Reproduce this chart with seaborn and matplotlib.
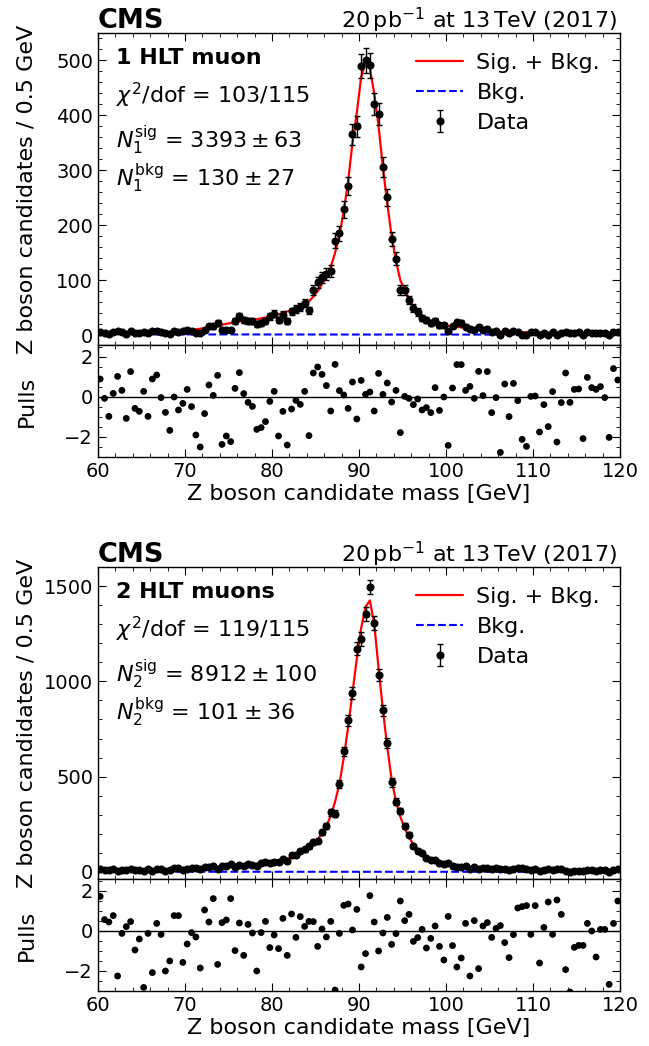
import numpy as np
import matplotlib
matplotlib.use("Agg")
import matplotlib.pyplot as plt
import seaborn as sns
from matplotlib.ticker import MultipleLocator

# binning: 60-120 GeV in 0.5 GeV bins
mass_lo, mass_hi, bin_width = 60.0, 120.0, 0.5
centers = np.arange(mass_lo + bin_width / 2, mass_hi, bin_width)

# ---- 1 HLT muon ----
counts_1 = [6, 4, 2, 5, 7, 5, 2, 7, 4, 3, 6, 3, 7, 8, 6, 4, 2,
            7, 5, 7, 10, 8, 4, 3, 10, 17, 16, 22,
            9, 10, 10, 26, 34, 27, 26, 26, 20, 22, 26, 34, 39,
            27, 37, 26, 43, 48, 51, 58, 45, 82, 96, 105,
            111, 116, 172, 185, 229, 271, 366, 380,
            490, 500, 491, 421, 403, 306, 251, 175, 139,
            83, 82, 64, 49, 42, 31, 27, 22, 26, 18, 18,
            7, 17, 23, 22, 14, 12, 10, 14, 9, 11, 5, 7,
            1, 8, 4, 7, 5, 1, 0, 5, 5, 1, 4, 1, 5, 0,
            4, 6, 3, 4, 5, 0, 5, 4, 4, 4, 3, 0, 6, 5]
fit_1 = [4.0, 4.1, 4.2, 4.3, 4.4, 4.5, 4.6, 4.7, 4.8, 4.9, 5.0, 5.1, 5.3, 5.5, 5.7, 5.9, 6.2,
         6.5, 7.0, 7.7, 8.5, 9.5, 10.5, 11.7, 13.0, 14.5, 16.0, 17.5,
         19.0, 20.5, 22.0, 23.5, 25.0, 26.0, 27.0, 28.0, 29.0, 30.5, 32.0, 34.0, 36.0,
         38.0, 40.5, 43.0, 46.0, 49.0, 52.5, 56.5, 61.5, 70.0, 80.0, 93.0,
         105, 124, 150, 182, 226, 280, 350, 405,
         470, 496, 485, 440, 380, 305, 240, 180, 135,
         100, 82, 65, 52, 43, 35, 30, 26, 23, 21, 19,
         17, 16, 15, 14, 12.5, 11, 10, 9.2, 8.5, 8.0, 7.5, 7.0,
         6.7, 6.4, 6.1, 5.8, 5.6, 5.4, 5.2, 5.0, 4.8, 4.7, 4.5, 4.4, 4.3, 4.2,
         4.1, 4.0, 3.9, 3.8, 3.7, 3.6, 3.5, 3.5, 3.4, 3.3, 3.3, 3.2, 3.1, 3.1]
pulls_1 = [0.9, -0.07, -0.97, 0.18, 1.03, 0.33, -1.07, 1.27, -0.57, -0.72,
           0.28, -0.97, 0.9, 1.1, -0.03, -0.77, -1.67, 0.0, -0.65, -0.32,
           0.38, -0.48, -1.9, -2.5, -0.83, 0.6, 0.08, 1.08, -2.37, -1.95,
           -2.23, 0.43, 1.22, 0.17, -0.27, -0.47, -1.62, -1.53, -1.23, -0.22,
           0.28, -1.95, -0.72, -2.4, -0.6, -0.17, -0.37, 0.28, -1.93, 1.2,
           1.5, 1.13, 0.57, -0.7, 1.63, 0.32, 0.1, -0.57, 0.75, -1.1,
           0.83, 0.13, 0.25, -0.7, 1.18, 0.13, 0.7, -0.25, 0.33, -1.78,
           0.03, -0.07, -0.38, -0.1, -0.65, -0.53, -0.78, 0.47, -0.67, 0.0,
           -2.42, 0.45, 1.62, 1.62, 0.33, 0.53, -0.07, 1.28, 0.07, 1.27,
           -0.78, -0.03, -2.77, 0.65, -0.98, 0.68, -0.18, -2.12, -2.47, 0.03,
           0.05, -1.75, -0.38, -1.48, 0.27, -2.25, -0.28, 1.2, -0.27, 0.38,
           0.4, -2.08, 0.98, 0.47, 0.38, 0.52, -0.03, -2.02, 1.42, 0.85]
bkg_mass = [60, 75, 90, 105, 120]
bkg_1 = [1.4, 1.2, 1.05, 0.95, 0.85]

# ---- 2 HLT muons ----
counts_2 = [16, 12, 12, 13, 3, 11, 12, 13, 9, 11, 3, 13, 6, 15, 14, 7, 10, 19, 20, 11,
            16, 19, 19, 13, 27, 26, 33, 18, 30, 32, 40, 27, 36, 29, 40, 39, 30, 45, 51, 45,
            53, 51, 68, 56, 88, 87, 108, 118, 134, 156, 162, 208, 240, 312, 306, 460, 632, 795, 940, 1170,
            1222, 1352, 1495, 1305, 1032, 849, 675, 470, 369, 320, 240, 195, 136, 112, 97, 72, 64, 62, 46, 40,
            48, 31, 25, 26, 32, 15, 27, 14, 23, 22, 18, 19, 18, 14, 11, 14, 19, 19, 18, 12,
            17, 7, 12, 16, 11, 16, 13, 4, 1, 7, 7, 7, 10, 9, 5, 9, 9, 1, 10, 13]
fit_2 = [10.0, 10.0, 10.3, 10.5, 10.8, 11.0, 11.3, 11.6, 12.0, 12.3, 12.7, 13.0, 13.5, 14.0, 14.5, 15.0, 15.6, 16.2, 17.0, 17.7,
         18.5, 19.3, 20.2, 21.2, 22.3, 23.5, 24.7, 26.0, 27.5, 29.0, 30.6, 32.3, 34.0, 36.0, 38.0, 40.0, 42.5, 45.0, 48.0, 51.0,
         54, 58, 63, 69, 77, 87, 99, 113, 129, 148, 171, 201, 240, 295, 368, 462, 600, 760, 940, 1120,
         1280, 1390, 1425, 1300, 1070, 850, 655, 485, 370, 290, 230, 182, 145, 117, 96, 80, 68, 59, 52, 46,
         41, 37, 34, 31, 28.5, 26.5, 24.5, 23.0, 21.5, 20.3, 19.2, 18.2, 17.3, 16.5, 15.8, 15.1, 14.5, 14.0, 13.5, 13.0,
         12.6, 12.2, 11.8, 11.5, 11.2, 10.9, 10.6, 10.4, 10.1, 9.9, 9.7, 9.5, 9.3, 9.1, 9.0, 8.8, 8.7, 8.5, 8.4, 8.3]
pulls_2 = [1.73, 0.57, 0.45, 0.77, -2.25, -0.12, 0.22, 0.47, -0.95, -0.4,
           -2.82, -0.12, -2.08, 0.38, -0.17, -2.0, -1.5, 0.77, 0.77, -1.57,
           -0.65, -0.08, -0.3, -1.85, 1.05, 0.45, 1.62, -1.67, 0.42, 0.55,
           1.62, -0.98, 0.4, -1.22, 0.33, -0.1, -2.0, -0.08, 0.48, -0.83,
           -0.2, -0.88, 0.63, -1.22, 0.85, -0.32, 0.72, 0.23, 0.48, 0.47,
           -0.77, 0.1, -0.3, 0.48, -2.95, -0.12, 1.28, 1.35, 0.05, 1.08,
           -1.8, -1.13, 1.77, 0.45, -1.0, -0.1, 0.68, -0.67, -0.13, 1.5,
           0.52, 0.83, -0.52, -0.33, 0.08, -0.85, -0.37, 0.25, -0.77, -1.45,
           0.73, -0.73, -1.8, -1.35, 0.38, -2.25, 0.52, -1.88, 0.25, 0.42,
           -0.32, 0.13, 0.27, -0.58, -1.33, -0.18, 1.15, 1.22, 1.27, -0.17,
           1.27, -1.6, 0.18, 1.45, -0.17, 1.55, 0.83, -1.93, -3.05, -0.82,
           -0.72, -0.72, 0.38, 0.0, -1.3, 0.08, 0.08, -2.67, 0.38, 1.5]
bkg_2 = [1.1, 0.95, 0.85, 0.75, 0.65]

sns.set_style("ticks")
plt.rcParams["font.family"] = ["DejaVu Sans"]
plt.rcParams["mathtext.fontset"] = "dejavusans"
plt.rcParams["font.size"] = 13
for key in ("text.color", "axes.labelcolor", "axes.edgecolor", "xtick.color", "ytick.color"):
    plt.rcParams[key] = "black"
for a in ("xtick", "ytick"):
    plt.rcParams[f"{a}.direction"] = "in"
    plt.rcParams[f"{a}.major.size"] = 6
    plt.rcParams[f"{a}.minor.size"] = 3
    plt.rcParams[f"{a}.labelsize"] = 14
plt.rcParams["xtick.top"] = True
plt.rcParams["ytick.right"] = True

W, H = 649, 1046
fig = plt.figure(figsize=(W / 100, H / 100), dpi=100)


def px_axes(left, top, right, bottom):
    return fig.add_axes([left / W, 1 - bottom / H, (right - left) / W, (bottom - top) / H])


def draw_block(top_px, counts, fit, pulls, bkg, title, chi2, nsig, nbkg, idx, ylim, major, minor):
    ax = px_axes(98, top_px, 620, top_px + 312)
    axp = px_axes(98, top_px + 312, 620, top_px + 424)

    counts = np.asarray(counts, dtype=float)
    sns.lineplot(x=bkg_mass, y=bkg, ax=ax, color="blue", linestyle="--", lw=1.5, label="Bkg.", zorder=2)
    sns.lineplot(x=centers, y=fit, ax=ax, color="red", lw=1.6, label="Sig. + Bkg.", zorder=3)
    ax.errorbar(centers, counts, yerr=np.sqrt(counts), fmt="o", color="black",
                ms=4.8, capsize=2, elinewidth=1, capthick=1, label="Data", zorder=4)

    ax.set_xlim(mass_lo, mass_hi)
    ax.set_ylim(*ylim)
    ax.yaxis.set_major_locator(MultipleLocator(major))
    ax.yaxis.set_minor_locator(MultipleLocator(minor))
    ax.xaxis.set_major_locator(MultipleLocator(10))
    ax.xaxis.set_minor_locator(MultipleLocator(2))
    ax.tick_params(axis="x", which="both", labelbottom=False)
    ax.set_ylabel("Z boson candidates / 0.5 GeV", fontsize=16)
    ax.yaxis.set_label_coords(-0.118, 0.5)

    handles, labels = ax.get_legend_handles_labels()
    order = [labels.index(k) for k in ("Sig. + Bkg.", "Bkg.", "Data")]
    ax.legend([handles[i] for i in order], [labels[i] for i in order], loc="upper right",
              frameon=False, fontsize=16, labelspacing=0.45, handlelength=2.1,
              handletextpad=0.6, borderaxespad=0.5)

    ax.text(0.035, 0.92, title, transform=ax.transAxes, fontsize=16, fontweight="bold", va="center")
    ax.text(0.035, 0.80, r"$\chi^2$/dof = " + chi2, transform=ax.transAxes, fontsize=16, va="center")
    ax.text(0.035, 0.655, rf"$N_{idx}^{{\mathrm{{sig}}}}$ = ${nsig}$", transform=ax.transAxes, fontsize=16, va="center")
    ax.text(0.035, 0.535, rf"$N_{idx}^{{\mathrm{{bkg}}}}$ = ${nbkg}$", transform=ax.transAxes, fontsize=16, va="center")
    ax.text(0.0, 1.016, "CMS", transform=ax.transAxes, fontsize=19.5, fontweight="bold", va="baseline")
    ax.text(0.995, 1.016, r"20$\,$pb$^{-1}$ at 13$\,$TeV (2017)", transform=ax.transAxes,
            fontsize=16, ha="right", va="baseline")

    axp.axhline(0, color="black", lw=1)
    sns.scatterplot(x=centers, y=pulls, ax=axp, color="black", s=24, edgecolor="none", zorder=3)
    axp.set_xlim(mass_lo, mass_hi)
    axp.set_ylim(-3, 2.6)
    axp.yaxis.set_major_locator(MultipleLocator(2))
    axp.yaxis.set_minor_locator(MultipleLocator(0.5))
    axp.xaxis.set_major_locator(MultipleLocator(10))
    axp.xaxis.set_minor_locator(MultipleLocator(2))
    axp.set_ylabel("Pulls", fontsize=16)
    axp.yaxis.set_label_coords(-0.118, 0.5)
    axp.set_xlabel("Z boson candidate mass [GeV]", fontsize=16, labelpad=2)
    for a in (ax, axp):
        a.tick_params(which="both", top=True, right=True, direction="in")
        for s in a.spines.values():
            s.set_linewidth(1)


draw_block(33, counts_1, fit_1, pulls_1, bkg_1, "1 HLT muon", "103/115",
           r"3393 \pm 63", r"130 \pm 27", 1, (-18, 550), 100, 20)
draw_block(567, counts_2, fit_2, pulls_2, bkg_2, "2 HLT muons", "119/115",
           r"8912 \pm 100", r"101 \pm 36", 2, (-37, 1600), 500, 100)

fig.savefig("out.png", dpi=100)
